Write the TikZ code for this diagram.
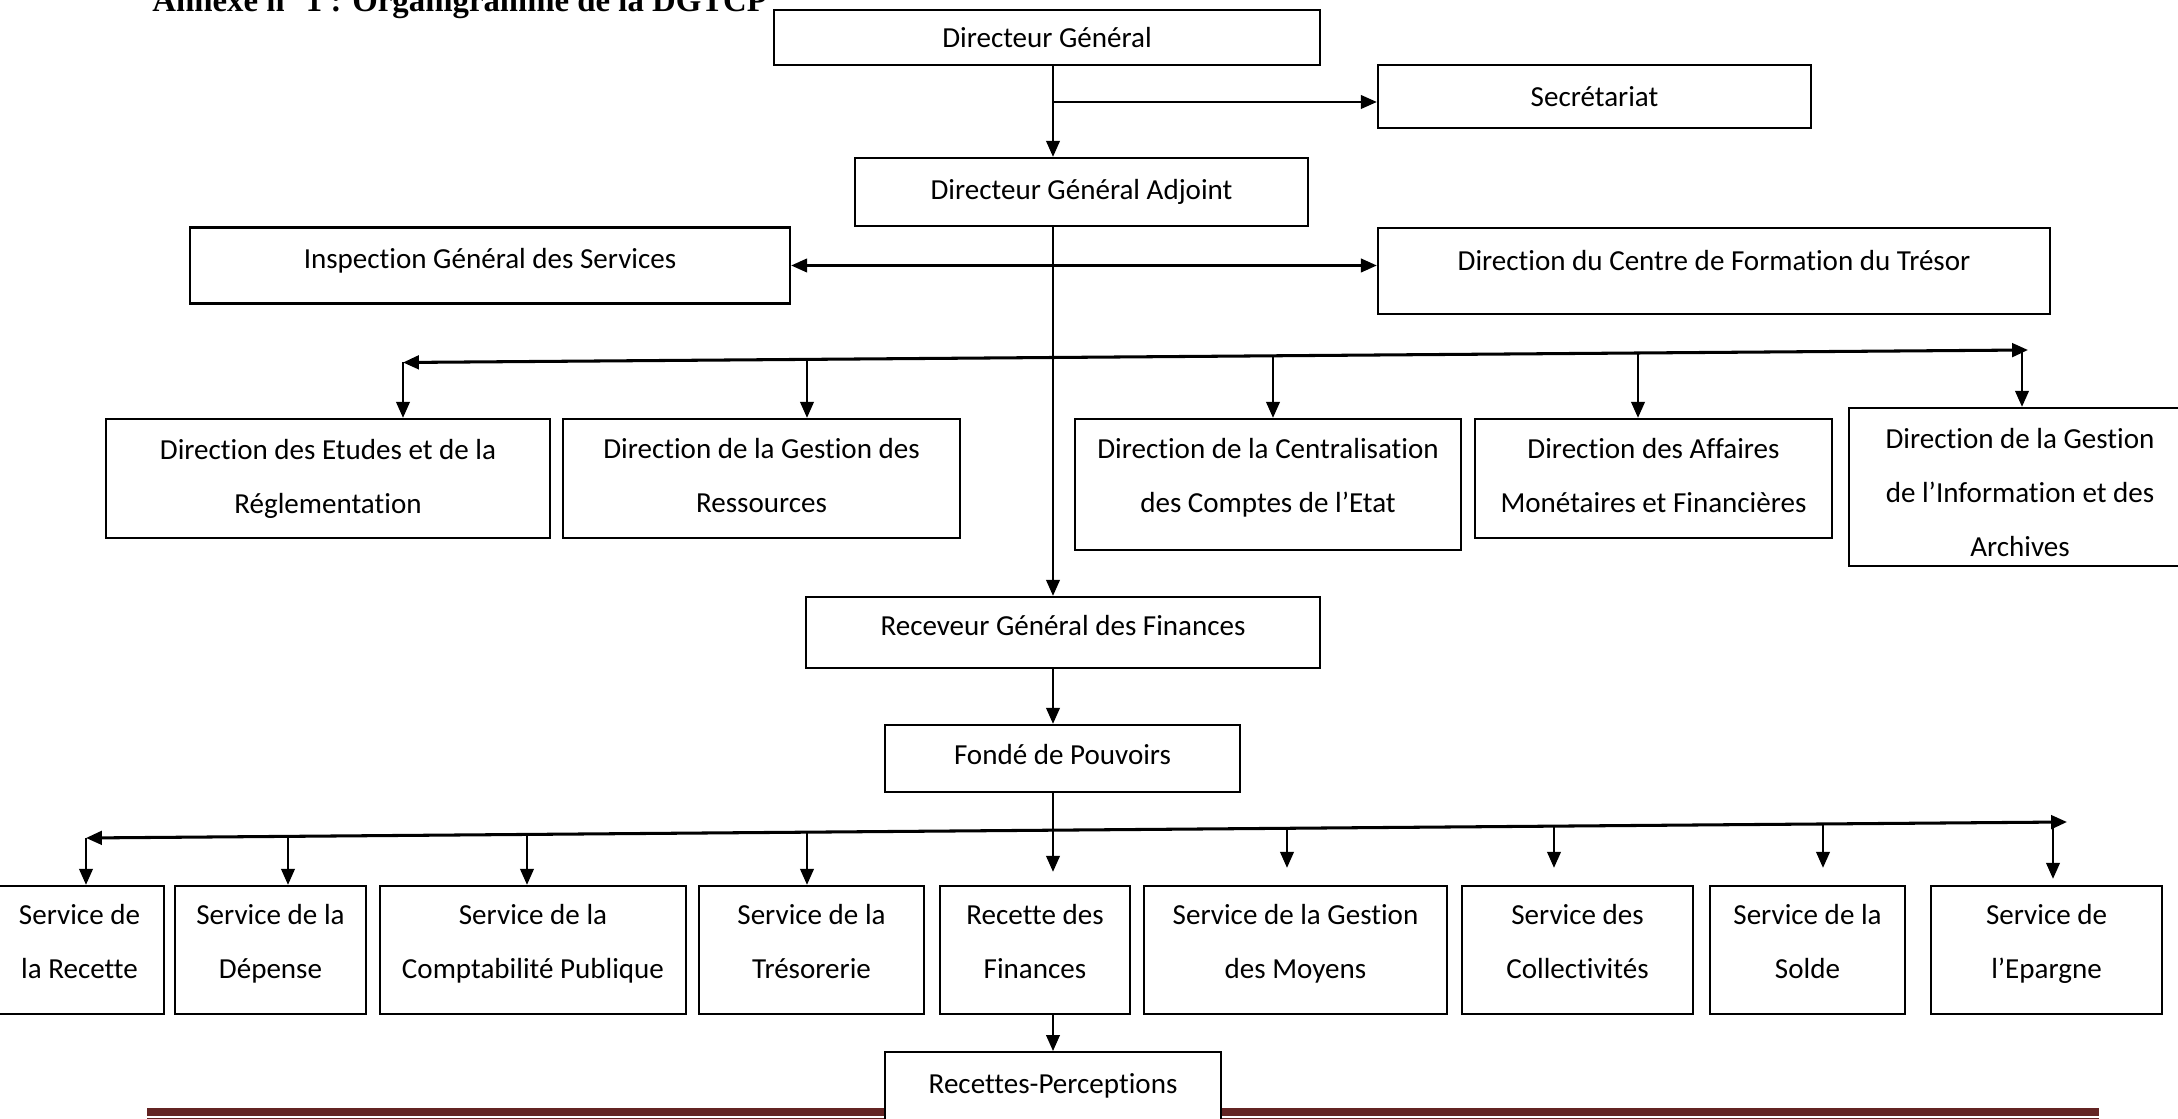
\documentclass[tikz,border=0pt]{standalone}
\usepackage{fontspec}
\setmainfont{Carlito}[Ligatures=NoCommon, Contextuals=NoAlternate]
\newfontfamily\titlefont{Liberation Serif}
\usetikzlibrary{arrows.meta}
\usetikzlibrary{positioning}
\definecolor{bandred}{HTML}{632423}
\newcommand{\ecart}{\rule[-9pt]{0pt}{19pt}}
\tikzset{box/.style={draw, line width=1pt, fill=white, align=center, inner sep=0pt,
    font=\fontsize{12.4}{23}\selectfont},
  arr/.style={line width=0.85pt, -{Triangle[length=6.8pt,width=5.8pt]}},
  arrtwo/.style={line width=1pt, {Triangle[length=6.8pt,width=5.8pt]}-{Triangle[length=6.8pt,width=5.8pt]}},
  bar/.style={line width=1.3pt, {Triangle[length=6.8pt,width=5.8pt]}-{Triangle[length=6.8pt,width=5.8pt]}}}

\begin{document}
\begin{tikzpicture}[x=0.015cm, y=-0.015cm]
  \useasboundingbox (0,0) rectangle (2178,1119);
  \clip (0,0) rectangle (2178,1119);
  \node[anchor=base west, inner sep=0pt, font=\titlefont\bfseries\fontsize{14}{16}\selectfont] (titre) at (152,12) {Annexe n° 1 : Organigramme de la DGTCP};

  \node[box, minimum width=8.19cm, minimum height=0.825cm] (dg) at (1047,37.5) {Directeur Général};
  \node[box, minimum width=6.495cm, minimum height=0.945cm] (sec) at (1594.5,96.5) {Secrétariat};
  \node[box, minimum width=6.795cm, minimum height=1.02cm] (dga) at (1081.5,192) {Directeur Général Adjoint};
  \node[box, minimum width=9cm, minimum height=1.14cm, text depth=6.4pt] (igs) at (490,265.5) {Inspection Général des Services};
  \node[box, minimum width=10.08cm, minimum height=1.29cm, text depth=9.4pt] (dcf) at (1714,271) {Direction du Centre de Formation du Trésor};

  \node[box, minimum width=6.66cm, minimum height=1.785cm] (der) at (328,478.5) {Direction des Etudes et de la\\Réglementation};
  \node[box, minimum width=5.955cm, minimum height=1.785cm] (dgr) at (761.5,478.5) {Direction de la Gestion des\\Ressources\rule[-2.4pt]{0pt}{0pt}};
  \node[box, minimum width=5.79cm, minimum height=1.965cm] (dcc) at (1268,484.5) {\ecart Direction de la Centralisation\\des Comptes de l’Etat\ecart};
  \node[box, minimum width=5.355cm, minimum height=1.785cm] (dam) at (1653.5,478.5) {Direction des Affaires\\Monétaires et Financières\rule[-2.4pt]{0pt}{0pt}};
  \node[box, minimum width=5.13cm, minimum height=2.37cm] (dgi) at (2020,487) {\rule{0pt}{13pt}Direction de la Gestion\\de l’Information et des\\Archives};

  \node[box, minimum width=7.71cm, minimum height=1.065cm, text depth=6pt] (rgf) at (1063,632.5) {Receveur Général des Finances};
  \node[box, minimum width=5.325cm, minimum height=1.005cm, text depth=3.6pt] (fdp) at (1062.5,758.5) {Fondé de Pouvoirs};

  \foreach \n/\x/\w/\t in {srec/79.5/2.535/{Service de\\la Recette},
      sdep/270.5/2.865/{Service de la\\Dépense},
      scp/533/4.59/{Service de la\\Comptabilité Publique},
      str/811.5/3.375/{Service de la\\Trésorerie},
      rdf/1035/2.85/{Recette des\\Finances},
      sgm/1295.5/4.545/{Service de la Gestion\\des Moyens},
      scol/1577.5/3.465/{Service des\\Collectivités},
      ssol/1807.5/2.925/{Service de la\\Solde},
      sepa/2046.5/3.465/{Service de\\l’Epargne}}
    \node[box, minimum width=\w cm, minimum height=1.92cm] (\n) at (\x,950) {\ecart\t\ecart};

  \fill[bandred] (147,1108) rectangle (2099,1116);
  \draw[bandred, line width=0.4pt] (147,1118.5) -- (2099,1118.5);
  \node[box, anchor=north, minimum width=5.04cm, text height=17.5pt, text depth=1.5cm] (rp) at (1053,1051) {Recettes-Perceptions};

  \coordinate (trunk) at (1053,0);
  \coordinate (secbr) at (1053,102);
  \draw[arr] (dg.south -| trunk) -- (dga.north -| trunk);
  \draw[arr] (secbr) -- (secbr -| sec.west);
  \draw[arrtwo] (igs.east) -- (igs.east -| dcf.west);
  \draw[arr] (dga.south -| trunk) -- (rgf.north -| trunk);

  \coordinate (bl1) at (403,362.5);
  \coordinate (br1) at (2028,350);
  \draw[bar] (bl1) -- (br1);
  \foreach \n/\x in {der/403,dgr/807,dcc/1273,dam/1638,dgi/2022}{
    \coordinate (h\n) at (\x,{362.5-(\x-403)/1625*12.5});
    \draw[arr] (h\n) -- (h\n |- \n.north);
  }

  \draw[arr] (rgf.south -| trunk) -- (fdp.north -| trunk);

  \coordinate (bl2) at (86,838);
  \coordinate (br2) at (2067,822);
  \draw[bar] (bl2) -- (br2);
  \draw[arr, shorten >=0.195cm] (fdp.south -| trunk) -- (rdf.north -| trunk);
  \foreach \n/\x/\s in {srec/86/0cm, sdep/288/0cm, scp/527/0cm, str/807/0cm,
      sgm/1287/0.255cm, scol/1554/0.255cm, ssol/1823/0.255cm, sepa/2053/0.09cm}{
    \coordinate (h\n) at (\x,{838-(\x-86)/1981*16});
    \draw[arr, shorten >=\s] (h\n) -- (h\n |- \n.north);
  }
  \draw[arr] (rdf.south -| trunk) -- (rp.north -| trunk);
\end{tikzpicture}
\end{document}
